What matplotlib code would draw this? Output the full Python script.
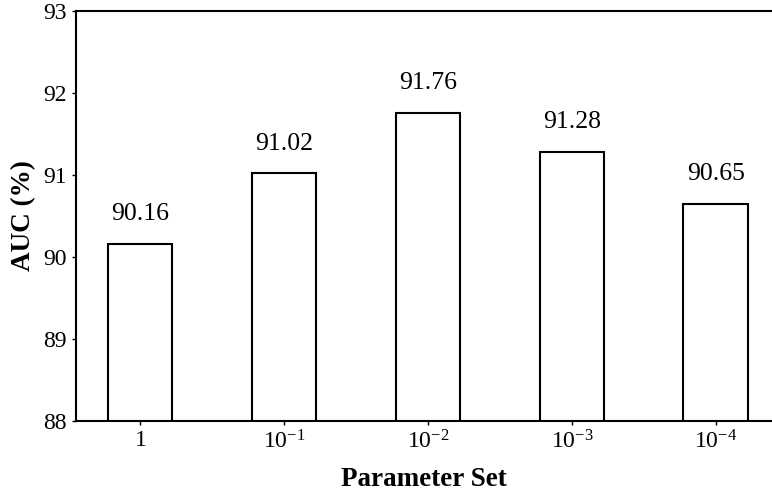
import matplotlib
matplotlib.use("Agg")
import matplotlib.pyplot as plt

plt.rcParams['font.family'] = ['Liberation Serif', 'DejaVu Serif']
plt.rcParams['mathtext.fontset'] = 'custom'
plt.rcParams['mathtext.rm'] = 'Liberation Serif'
plt.rcParams['mathtext.it'] = 'Liberation Serif:italic'
plt.rcParams['mathtext.bf'] = 'Liberation Serif:bold'

# Parameter settings and their AUC scores
categories = ['$\\mathrm{1}$', '$\\mathrm{10^{-1}}$', '$\\mathrm{10^{-2}}$',
              '$\\mathrm{10^{-3}}$', '$\\mathrm{10^{-4}}$']
auc_values = [90.16, 91.02, 91.76, 91.28, 90.65]
y_ticks = [88, 89, 90, 91, 92, 93]

fig = plt.figure(figsize=(7.72, 4.95), dpi=100)
ax = fig.add_axes([76 / 772, 74 / 495, 696 / 772, 410 / 495])

x = list(range(len(categories)))
ax.bar(x, auc_values, width=0.45, color='white', edgecolor='black', linewidth=1.5)

for xi, v in zip(x, auc_values):
    ax.text(xi, v + 0.29, f'{v:.2f}', ha='center', va='baseline', fontsize=18.5)

ax.set_ylim(88, 93)
ax.set_xlim(-0.445, 4.39)
ax.set_yticks(y_ticks)
ax.set_yticklabels([str(t) for t in y_ticks])
ax.set_xticks(x)
ax.set_xticklabels(categories)
ax.tick_params(axis='both', labelsize=17, length=3, width=1)

ax.spines['right'].set_visible(False)
for s in ['left', 'bottom', 'top']:
    ax.spines[s].set_linewidth(1.5)

ax.set_ylabel('AUC (%)', fontsize=19.5, fontweight='bold', labelpad=5)
ax.set_xlabel('Parameter Set', fontsize=19.5, fontweight='bold', labelpad=10)

fig.savefig('out.png', dpi=100)
